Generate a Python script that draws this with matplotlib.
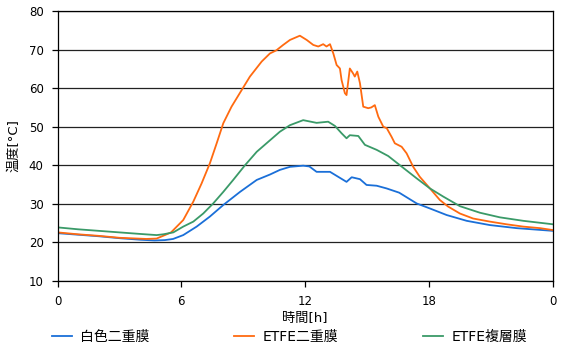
import matplotlib
matplotlib.use("Agg")
import matplotlib.pyplot as plt

plt.rcParams['font.family'] = ['DejaVu Sans', 'Noto Sans CJK JP']

# 白色二重膜
white_h = [0, 1, 2, 3, 4, 4.7, 5.2, 5.6, 6.09, 6.74, 7.38, 8.03, 8.84, 9.65, 10.29,
           10.77, 11.26, 11.9, 12.2, 12.55, 13.2, 13.6, 14.0, 14.25, 14.65, 14.97,
           15.46, 15.94, 16.55, 17.4, 18.04, 18.85, 19.82, 20.94, 22.24, 24]
white_t = [22.4, 22.0, 21.6, 21.1, 20.7, 20.5, 20.6, 20.9, 21.9, 24.1, 26.7, 29.7, 33.1,
           36.2, 37.6, 38.8, 39.6, 39.9, 39.7, 38.3, 38.3, 37.0, 35.7, 36.9, 36.4, 34.9,
           34.7, 34.0, 32.9, 30.1, 28.8, 27.1, 25.6, 24.5, 23.7, 23.0]

# ETFE二重膜
etfe2_h = [0, 1, 2, 3, 4.3, 4.8, 5.2, 5.5, 6.09, 6.58, 6.98, 7.38, 7.71, 8.03, 8.43,
           8.92, 9.32, 9.89, 10.29, 10.6, 10.93, 11.26, 11.74, 12.07, 12.39, 12.63,
           12.87, 13.03, 13.2, 13.36, 13.52, 13.68, 13.76, 13.92, 14.0, 14.16, 14.32,
           14.4, 14.52, 14.65, 14.81, 15.05, 15.2, 15.37, 15.54, 15.78, 15.95, 16.18,
           16.34, 16.67, 16.91, 17.23, 17.55, 18.04, 18.52, 18.92, 19.49, 20.13, 20.94,
           21.75, 22.56, 23.37, 24]
etfe2_t = [22.6, 22.1, 21.7, 21.2, 20.9, 21.0, 21.9, 22.6, 25.8, 30.6, 35.3, 40.5, 45.7,
           50.9, 55.2, 59.5, 63.0, 66.9, 69.0, 69.8, 71.2, 72.5, 73.6, 72.5, 71.2, 70.8,
           71.4, 70.8, 71.4, 69.0, 66.0, 65.1, 62.1, 58.7, 58.2, 65.1, 63.8, 63.0, 64.3,
           61.3, 55.2, 54.8, 55.0, 55.6, 52.6, 50.0, 49.6, 47.4, 45.7, 44.8, 43.1, 39.6,
           37.0, 34.0, 31.0, 29.3, 27.5, 26.2, 25.4, 24.7, 24.1, 23.7, 23.2]

# ETFE複層膜
etfem_h = [0, 1, 2, 3, 4, 4.8, 5.12, 5.61, 6.09, 6.58, 7.06, 7.54, 8.03, 8.51, 9.08,
           9.65, 10.21, 10.77, 11.26, 11.9, 12.55, 13.11, 13.44, 13.76, 14.0, 14.16,
           14.57, 14.89, 15.46, 16.02, 16.59, 17.4, 18.04, 18.68, 19.49, 20.46, 21.43,
           22.56, 24]
etfem_t = [23.9, 23.4, 23.0, 22.6, 22.2, 21.9, 22.1, 22.6, 24.1, 25.4, 27.5, 30.1, 33.1,
           36.2, 40.0, 43.5, 46.1, 48.7, 50.4, 51.7, 51.0, 51.3, 50.2, 48.3, 47.0, 47.8,
           47.6, 45.3, 44.0, 42.4, 40.0, 36.6, 34.0, 31.9, 29.4, 27.7, 26.5, 25.6, 24.7]

x_ticks = [0, 6, 12, 18, 24]
x_tick_labels = ['0', '6', '12', '18', '0']
y_ticks = [10, 20, 30, 40, 50, 60, 70, 80]

fig = plt.figure(figsize=(5.61, 3.42), dpi=100)
ax = fig.add_axes([0.1025, 0.1784, 0.8832, 0.7894])

ax.plot(white_h, white_t, color='#1a6fd8', lw=1.3, label='白色二重膜')
ax.plot(etfe2_h, etfe2_t, color='#ff6a10', lw=1.3, label='ETFE二重膜')
ax.plot(etfem_h, etfem_t, color='#3a9a68', lw=1.3, label='ETFE複層膜')

ax.set_xlim(0, 24)
ax.set_ylim(10, 80)
ax.set_xticks(x_ticks)
ax.set_xticklabels(x_tick_labels)
ax.set_yticks(y_ticks)
ax.yaxis.grid(True, color='#222222', lw=0.9)
ax.set_axisbelow(True)
for s in ax.spines.values():
    s.set_color('black')
    s.set_linewidth(0.9)
ax.tick_params(axis='both', direction='out', length=4, width=0.9, labelsize=8.5,
               colors='black')
ax.tick_params(axis='x', pad=6)
ax.tick_params(axis='y', pad=6)

ax.set_xlabel('時間[h]', fontsize=9.5, labelpad=3)
ax.set_ylabel('温度[°C]', fontsize=9.5, labelpad=6)

fig.legend(loc='center', bbox_to_anchor=(0.516, 0.016), ncol=3, frameon=False,
           fontsize=10, handlelength=1.45, handletextpad=0.6, columnspacing=6.1)

fig.savefig('out.png', dpi=100)
